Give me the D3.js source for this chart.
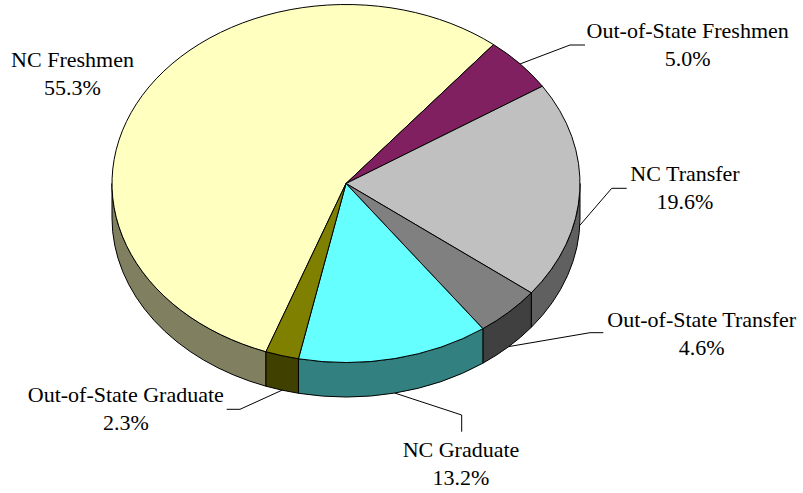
<!DOCTYPE html>
<meta charset="utf-8">
<style>
body { margin: 0; background: #fff; }
.edge { stroke: #000; stroke-width: 1px; vector-effect: non-scaling-stroke; }
.leader { fill: none; stroke: #000; stroke-width: 1px; }
</style>
<body>
<script src="https://d3js.org/d3.v7.min.js"></script>
<script>

// data
var categories = ["NC Freshmen", "Out-of-State Freshmen", "NC Transfer",
                  "Out-of-State Transfer", "NC Graduate", "Out-of-State Graduate"];
var shares = [55.3, 5.0, 19.6, 4.6, 13.2, 2.3];
var shareLabels = ["55.3%", "5.0%", "19.6%", "4.6%", "13.2%", "2.3%"];

// colours of the top faces, sides are half as bright
var topColors = ["#FFFFC0", "#802060", "#C0C0C0", "#808080", "#66FFFF", "#808000"];

// layout of the chart
var width = 803, height = 493;
var cx = 346, cy = 183.5, rx = 234, ry = 179, depth = 34.5;
var firstAngle = 200 * Math.PI / 180;
var lineGap = 28;

// label placement (centre x, first baseline) and leader line shape
var labelAt = [[72.5, 67.3], [687.7, 38.3], [685, 180.7], [701.7, 326.7], [461, 457.3], [125.8, 401.7]];
var leaderBend = [null, [570, 45, 585, 45], [611.7, 188.3, 626.7, 188.3],
                  [590, 332.7, 603.3, 332.7], [461.7, 415, 461.7, 431.7], [240, 409.3, 226.7, 409.3]];

var svg = d3.select("body").append("svg")
    .attr("width", width)
    .attr("height", height);

var pie = d3.pie()
    .sort(null)
    .value(function(d) { return d; })
    .startAngle(firstAngle)
    .endAngle(firstAngle + 2 * Math.PI);

var slices = pie(shares);

// point on the rim, angle measured clockwise from 12 o'clock
function rim(a, dz) {
  return [cx + rx * Math.sin(a), cy - ry * Math.cos(a) + (dz || 0)];
}

function sideColor(c) {
  var col = d3.rgb(c);
  return d3.rgb(col.r / 2, col.g / 2, col.b / 2).formatHex();
}

// side walls: only the front half of the pie shows
var sides = svg.append("g");
slices.forEach(function(s, i) {
  [0, 1].forEach(function(k) {
    var lo = Math.PI / 2 + 2 * Math.PI * k, hi = 3 * Math.PI / 2 + 2 * Math.PI * k;
    var b0 = Math.max(s.startAngle, lo), b1 = Math.min(s.endAngle, hi);
    if (b1 <= b0) return;
    var p0 = rim(b0), p1 = rim(b1), q1 = rim(b1, depth), q0 = rim(b0, depth);
    var d = "M" + p0 + "A" + rx + "," + ry + " 0 0 1 " + p1 +
            "L" + q1 + "A" + rx + "," + ry + " 0 0 0 " + q0 + "Z";
    sides.append("path")
        .attr("class", "edge")
        .attr("d", d)
        .style("fill", sideColor(topColors[i]));
  });
});

// top faces
var arc = d3.arc().innerRadius(0).outerRadius(rx);
svg.append("g")
    .attr("transform", "translate(" + cx + "," + cy + ") scale(1," + (ry / rx) + ")")
  .selectAll("path")
  .data(slices)
  .enter().append("path")
    .attr("class", "edge")
    .attr("d", arc)
    .style("fill", function(d, i) { return topColors[i]; });

// leader lines
slices.forEach(function(s, i) {
  var b = leaderBend[i];
  if (!b) return;
  var mid = (s.startAngle + s.endAngle) / 2;
  var start = rim(mid, Math.cos(mid) < 0 ? depth : 0);
  svg.append("path")
      .attr("class", "leader")
      .attr("d", "M" + start + "L" + b[0] + "," + b[1] + "L" + b[2] + "," + b[3]);
});

// labels
var labels = svg.append("g");
categories.forEach(function(name, i) {
  var t = labels.append("text")
      .attr("text-anchor", "middle")
      .style("font-family", "'Liberation Serif'")
      .style("font-size", "22px")
      .style("fill", "#000")
      .attr("x", labelAt[i][0])
      .attr("y", labelAt[i][1]);
  t.append("tspan").attr("x", labelAt[i][0]).text(name);
  t.append("tspan").attr("x", labelAt[i][0]).attr("dy", lineGap).text(shareLabels[i]);
});

</script>
</body>
